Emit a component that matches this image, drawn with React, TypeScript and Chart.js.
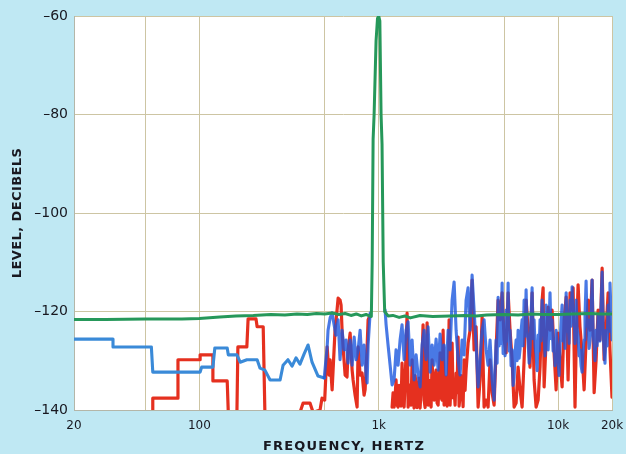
import React, { useEffect, useRef } from "react";
import { Chart, registerables } from "chart.js";

Chart.register(...registerables);

// ---------- data ----------
const xTicks = [20, 50, 100, 500, 1000, 5000, 10000, 20000];
const xTickLabels = ["20", "", "100", "", "1k", "", "10k", "20k"];
const yTicks = [-140, -120, -100, -80, -60];
const yTickLabels = ["–140", "–120", "–100", "–80", "–60"];
const xTitle = "FREQUENCY, HERTZ";
const yTitle = "LEVEL, DECIBELS";

// green trace (1 kHz test tone)
const greenFreq = [20, 30, 50, 80, 100, 130, 160, 200, 250, 300, 350, 400, 450, 500, 550, 600, 650, 700, 750, 800, 850, 900, 910, 920, 931, 943, 967, 985, 1000, 1015, 1031, 1044, 1060, 1080, 1128, 1200, 1300, 1400, 1500, 1700, 2000, 2500, 3000, 3500, 4000, 5000, 6000, 7000, 8500, 10000, 12000, 15000, 17500, 20000];
const greenLevel = [-121.6, -121.6, -121.5, -121.5, -121.4, -121.1, -120.9, -120.8, -120.6, -120.7, -120.5, -120.6, -120.4, -120.5, -120.3, -120.6, -120.4, -120.8, -120.5, -120.9, -120.6, -121.0, -121.0, -110, -85, -80, -65, -60.5, -60, -61, -80, -86, -110, -120, -120.9, -120.8, -121.2, -120.9, -121.3, -120.8, -121.0, -120.9, -120.8, -120.9, -120.7, -120.6, -120.7, -120.5, -120.6, -120.6, -120.5, -120.4, -120.5, -120.5];

// gap under the tone
const gapFreq = [960];
const gapLevel = [null];

// blue trace
const blueStepFreq = [20, 33, 33, 54, 55, 101, 103, 119, 122, 143, 145, 162, 169, 184, 210, 218, 232, 248, 282, 293, 312, 329, 346, 364, 384, 404, 425, 459];
const blueStepLevel = [-125.6, -125.6, -127.2, -127.2, -132.3, -132.3, -131.3, -131.3, -127.4, -127.4, -128.8, -128.8, -130.3, -129.8, -129.8, -131.5, -131.9, -133.9, -133.9, -130.9, -129.8, -131.1, -129.4, -130.7, -128.6, -126.8, -130.3, -133.1];
const blueMidFreq = [497, 516, 522, 536, 550, 564, 578, 594, 609, 625, 642, 658, 675, 693, 711, 730, 748, 768, 788, 808, 829, 851, 862, 873, 896];
const blueMidLevel = [-133.5, -127.2, -123.8, -121.3, -120.3, -122.7, -124.8, -121.7, -129.8, -123.8, -127.8, -125.8, -130.5, -125.8, -130.9, -125.2, -129.8, -127.8, -123.8, -130.9, -126.8, -132.9, -134.5, -126.8, -120.3];
const blueHiFreq = [
  1086, 1100, 1128, 1158, 1188, 1219, 1250, 1283, 1316, 1350,
  1386, 1422, 1459, 1497, 1536, 1576, 1617, 1659, 1702, 1746,
  1792, 1838, 1886, 1935, 1986, 2037, 2090, 2145, 2200, 2258,
  2316, 2377, 2439, 2501, 2567, 2634, 2702, 2772, 2844, 2918,
  2994, 3072, 3152, 3233, 3318, 3404, 3493, 3584, 3676, 3773,
  3871, 3972, 4075, 4179, 4290, 4401,
];
const blueHiLevel = [
  -119.7, -122.7, -126.8, -130.9, -134.9, -133.9, -127.8, -130.9, -125.8, -122.7,
  -129.8, -123.8, -122.1, -130.9, -125.8, -133.9, -128.8, -132.9, -135.3, -126.8,
  -123.8, -129.8, -123.1, -132.3, -126.8, -130.9, -125.6, -131.9, -124.6, -129.8,
  -126.8, -132.9, -123.8, -127.8, -117.7, -114.0, -123.8, -129.8, -132.9, -125.8,
  -128.8, -117.7, -115.2, -123.8, -112.6, -119.7, -126.8, -135.3, -129.8, -123.8,
  -121.7, -127.8, -130.9, -125.8, -133.9, -138.0,
];
const blueTopFreq = [
  4516, 4575, 4634, 4693, 4751, 4815, 4878, 4941, 5005, 5066,
  5135, 5201, 5269, 5336, 5402, 5475, 5546, 5618, 5690, 5760,
  5838, 5913, 5990, 6067, 6141, 6224, 6306, 6388, 6470, 6548,
  6638, 6724, 6811, 6900, 6982, 7075, 7170, 7263, 7357, 7445,
  7549, 7645, 7745, 7843, 7938, 8047, 8154, 8259, 8366, 8464,
  8584, 8694, 8806, 8914, 9025, 9146, 9268, 9389, 9509, 9623,
  9760, 9883, 10000, 10140, 10260, 10400, 10540, 10680, 10810, 10940,
  11100, 11240, 11380, 11520, 11670, 11830, 11980, 12140, 12290, 12440,
  12610, 12780, 12940, 13100, 13260, 13450, 13620, 13800, 13980, 14140,
  14340, 14530, 14720, 14900, 15080, 15300, 15490, 15690, 15900, 16080,
  16310, 16520, 16730, 16950, 17140, 17390, 17620, 17840, 18070, 18280,
  18540, 18780, 19030, 19260, 19490, 20000,
];
const blueTopLevel = [
  -125.8, -130.5, -117.1, -127.0, -121.7, -126.5, -114.2, -128.5, -123.8, -129.0,
  -119.7, -126.0, -114.2, -128.0, -123.8, -131.0, -127.8, -135.0, -133.3, -128.5,
  -125.8, -130.0, -123.8, -129.5, -127.8, -124.0, -121.7, -127.0, -117.7, -125.0,
  -115.6, -124.0, -125.8, -130.5, -127.8, -121.0, -115.2, -125.5, -121.7, -127.0,
  -128.8, -132.0, -124.8, -128.0, -121.7, -126.0, -117.7, -124.5, -123.8, -129.0,
  -118.7, -125.0, -127.8, -122.5, -116.2, -125.5, -121.7, -128.0, -125.8, -131.0,
  -123.8, -127.5, -129.8, -133.0, -126.8, -122.0, -118.7, -126.0, -122.7, -127.5,
  -116.2, -124.0, -121.7, -126.5, -117.7, -123.0, -115.0, -122.0, -120.7, -126.5,
  -117.7, -123.5, -124.8, -129.0, -127.8, -131.0, -132.3, -128.0, -125.8, -121.0,
  -113.8, -123.0, -121.7, -127.5, -125.8, -121.0, -113.6, -124.5, -126.8, -130.0,
  -123.8, -127.0, -120.7, -126.0, -125.8, -119.0, -112.0, -124.0, -127.8, -130.5,
  -123.8, -127.0, -118.7, -124.0, -114.2, -125.8,
];

// red trace
const redStepFreq = [55, 55, 76, 76, 101, 101, 119, 119, 143, 145, 162, 164, 184, 187, 207, 210, 227, 232, 364, 379, 414, 431];
const redStepLevel = [-140.5, -137.6, -137.6, -129.8, -129.8, -128.8, -128.8, -134.1, -134.1, -140.5, -140.5, -127.2, -127.2, -121.5, -121.5, -123.1, -123.1, -140.5, -140.5, -138.6, -138.6, -140.5];
const redMidFreq = [471, 483, 500, 516, 529, 536, 550, 564, 571, 586, 594, 609, 617, 625, 633, 650, 666, 675, 693, 711, 720, 739, 758, 768, 788, 808, 829, 840, 862, 873, 896];
const redMidLevel = [-140.0, -137.6, -138.0, -127.2, -132.9, -129.8, -135.9, -127.8, -123.8, -119.7, -117.3, -117.7, -118.7, -123.8, -127.2, -132.9, -133.3, -127.8, -124.4, -131.9, -133.9, -137.0, -139.4, -127.2, -132.9, -132.5, -137.0, -135.9, -127.2, -121.7, -120.7];
const redHiFreq = [
  1188, 1203, 1219, 1234, 1250, 1266, 1283, 1299, 1316, 1333,
  1350, 1368, 1386, 1404, 1422, 1440, 1459, 1478, 1497, 1516,
  1536, 1555, 1576, 1596, 1617, 1637, 1659, 1680, 1702, 1724,
  1746, 1768, 1792, 1815, 1838, 1862, 1886, 1910, 1935, 1960,
  1986, 2011, 2037, 2063, 2090, 2117, 2145, 2172, 2200, 2229,
  2258, 2287, 2316, 2346, 2377, 2407, 2439, 2470, 2501, 2534,
  2567, 2600, 2634, 2667, 2702, 2736, 2772, 2808, 2844, 2881,
  2918, 2956, 2994, 3032, 3072,
];
const redHiLevel = [
  -139.4, -136.5, -139.4, -137.5, -133.9, -139.0, -139.4, -135.0, -137.0, -139.2,
  -130.5, -136.0, -139.4, -134.5, -127.8, -120.3, -139.4, -136.8, -134.9, -139.0,
  -129.8, -137.5, -139.6, -133.0, -134.9, -139.5, -138.0, -133.5, -139.6, -136.0,
  -129.8, -122.7, -138.0, -139.5, -133.9, -122.3, -139.0, -134.0, -137.0, -139.4,
  -129.8, -136.5, -138.0, -133.0, -131.9, -138.6, -139.0, -134.5, -128.4, -137.5,
  -138.0, -123.8, -139.0, -135.5, -133.3, -139.2, -137.0, -121.7, -139.0, -134.0,
  -126.4, -137.5, -135.9, -139.0, -132.5, -136.5, -125.2, -139.2, -137.0, -133.0,
  -135.3, -139.3, -129.8, -136.0, -131.9,
];
const redTopFreq = [
  3152, 3233, 3318, 3404, 3493, 3584, 3676, 3773, 3871, 3972,
  4075, 4179, 4290, 4401, 4516, 4634, 4751, 4878, 5005, 5135,
  5269, 5402, 5546, 5690, 5838, 5990, 6141, 6306, 6470, 6638,
  6811, 6982, 7170, 7357, 7549, 7745, 7938, 8154, 8259, 8366,
  8584, 8806, 9025, 9268, 9509, 9760, 10000, 10260, 10540, 10810,
  11100, 11380, 11670, 11980, 12140, 12440, 12610, 12940, 13260, 13620,
  13980, 14340, 14720, 15080, 15490, 15900, 16310, 16730, 17140, 17620,
  18070, 18540, 19030, 19490, 20000,
];
const redTopLevel = [
  -126.4, -123.8, -113.6, -127.8, -123.1, -139.4, -133.9, -121.1, -139.4, -138.0,
  -139.4, -129.8, -136.5, -139.0, -127.8, -117.7, -121.7, -116.2, -125.8, -128.4,
  -116.2, -123.8, -129.8, -139.4, -138.6, -131.3, -135.9, -139.4, -129.8, -117.7,
  -123.8, -131.3, -116.2, -133.9, -139.4, -138.0, -131.3, -117.7, -115.2, -135.3,
  -125.8, -119.1, -123.8, -119.7, -128.4, -135.9, -124.4, -129.8, -135.3, -121.7,
  -117.1, -133.9, -116.2, -119.7, -115.2, -139.4, -127.8, -114.6, -123.1, -128.4,
  -135.9, -125.8, -117.7, -123.8, -113.6, -136.5, -129.8, -119.7, -125.8, -111.2,
  -129.8, -123.8, -116.2, -127.8, -137.4,
];

const blueFreq = [...blueStepFreq, ...blueMidFreq, ...gapFreq, ...blueHiFreq, ...blueTopFreq];
const blueLevel = [...blueStepLevel, ...blueMidLevel, ...gapLevel, ...blueHiLevel, ...blueTopLevel];
const redFreq = [...redStepFreq, ...redMidFreq, ...gapFreq, ...redHiFreq, ...redTopFreq];
const redLevel = [...redStepLevel, ...redMidLevel, ...gapLevel, ...redHiLevel, ...redTopLevel];

const zip = (xs: number[], ys: (number | null)[]) => xs.map((x, i) => ({ x, y: ys[i] }));

const PAGE_BG = "#bfe8f3";
const GRID = "#cdc5a3";
const INK = "#181820";

const panelPlugin = {
  id: "panel",
  beforeDraw(chart: any) {
    const { ctx, chartArea: a } = chart;
    ctx.save();
    ctx.fillStyle = "#ffffff";
    ctx.fillRect(a.left, a.top, a.right - a.left, a.bottom - a.top);
    ctx.restore();
  },
  afterDraw(chart: any) {
    const { ctx, chartArea: a } = chart;
    ctx.save();
    ctx.fillStyle = INK;
    ctx.font = 'bold 13px "DejaVu Sans"';
    ctx.textAlign = "center";
    ctx.textBaseline = "middle";
    (ctx as any).letterSpacing = "1.2px";
    ctx.fillText(xTitle, (a.left + a.right) / 2 + 1, a.bottom + 37);
    (ctx as any).letterSpacing = "0.4px";
    ctx.translate(a.left - 56, (a.top + a.bottom) / 2);
    ctx.rotate(-Math.PI / 2);
    ctx.fillText(yTitle, 0, 0);
    ctx.restore();
  },
};

const zeroPad = (s: any) => {
  s.paddingLeft = 0;
  s.paddingRight = 0;
  s.paddingTop = 0;
  s.paddingBottom = 0;
};

export default function App() {
  const ref = useRef<HTMLCanvasElement | null>(null);

  useEffect(() => {
    document.body.style.margin = "0";
    if (!ref.current) return;
    const skyBlue = "#3a8ad8";
    const deepBlue = "rgba(28,88,222,0.8)";
    const chart = new Chart(ref.current, {
      type: "line",
      data: {
        datasets: [
          {
            label: "green",
            data: zip(greenFreq, greenLevel),
            borderColor: "#26985a",
            borderWidth: 3,
            pointRadius: 0,
            tension: 0,
            order: 0,
            borderJoinStyle: "round",
            borderCapStyle: "round",
          },
          {
            label: "blue",
            data: zip(blueFreq, blueLevel),
            borderColor: deepBlue,
            borderWidth: 3.1,
            pointRadius: 0,
            tension: 0,
            spanGaps: false,
            order: 1,
            borderJoinStyle: "round",
            borderCapStyle: "round",
            segment: {
              borderColor: (c: any) => (c.p0.parsed.x < 480 ? skyBlue : deepBlue),
            },
          },
          {
            label: "red",
            data: zip(redFreq, redLevel),
            borderColor: "#e5301f",
            borderWidth: 3.2,
            pointRadius: 0,
            tension: 0,
            spanGaps: false,
            order: 2,
            borderJoinStyle: "round",
            borderCapStyle: "round",
          },
        ],
      } as any,
      options: {
        animation: false,
        responsive: true,
        maintainAspectRatio: false,
        events: [],
        layout: { padding: { top: 16, right: 14, left: 0, bottom: 0 } },
        plugins: { legend: { display: false }, tooltip: { enabled: false } },
        scales: {
          x: {
            type: "logarithmic",
            min: 20,
            max: 20000,
            afterBuildTicks: (s: any) => {
              s.ticks = xTicks.map((v) => ({ value: v }));
            },
            afterFit: (s: any) => {
              s.height = 44;
              zeroPad(s);
            },
            ticks: {
              autoSkip: false,
              maxRotation: 0,
              padding: 9,
              color: INK,
              font: { family: "DejaVu Sans", size: 12 },
              callback: (v: any) => {
                const i = xTicks.indexOf(Number(v));
                return i >= 0 ? xTickLabels[i] : "";
              },
            },
            grid: { color: GRID, lineWidth: 1, drawTicks: false },
            border: { color: "#b4b6a8", width: 1 },
          },
          y: {
            type: "linear",
            min: -140,
            max: -60,
            afterBuildTicks: (s: any) => {
              s.ticks = yTicks.map((v) => ({ value: v }));
            },
            afterFit: (s: any) => {
              s.width = 74;
              zeroPad(s);
            },
            ticks: {
              padding: 6,
              color: INK,
              font: { family: "DejaVu Sans", size: 14 },
              callback: (v: any) => {
                const i = yTicks.indexOf(Number(v));
                return i >= 0 ? yTickLabels[i] : "";
              },
            },
            grid: { color: GRID, lineWidth: 1, drawTicks: false },
            border: { color: "#b4b6a8", width: 1 },
          },
        },
      } as any,
      plugins: [panelPlugin],
    });
    return () => chart.destroy();
  }, []);

  return (
    <div style={{ position: "fixed", left: 0, top: 0, width: 626, height: 454, background: PAGE_BG }}>
      <canvas ref={ref} />
    </div>
  );
}
